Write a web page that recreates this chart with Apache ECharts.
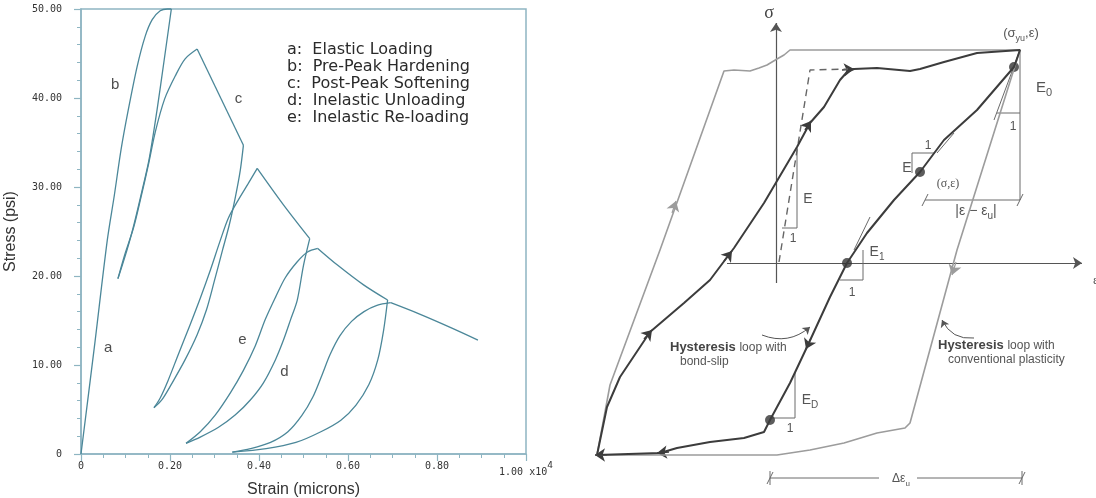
<!DOCTYPE html>
<html>
<head>
<meta charset="utf-8">
<script src="https://cdn.jsdelivr.net/npm/echarts@6/dist/echarts.min.js"></script>
<style>
  html, body { margin: 0; padding: 0; background: #fff; }
  #chart { width: 1096px; height: 498px; }
</style>
</head>
<body>
<div id="chart"></div>
<script>
// ---------- Left panel: cyclic stress–strain response ----------
// strain in units of 1e4 microns, stress in psi
const loadingEnvelope = [[0, 0], [0.030, 12.0], [0.059, 24.0], [0.075, 29.1], [0.090, 34.2], [0.106, 38.6], [0.126, 43.5], [0.144, 46.9], [0.160, 48.8], [0.178, 49.8], [0.194, 50.0], [0.203, 50.0]];
const unload1 = [[0.203, 50.0], [0.187, 44.3], [0.171, 38.7], [0.153, 33.1], [0.133, 28.7], [0.115, 25.0], [0.099, 22.2], [0.083, 19.7]];
const reload1 = [[0.083, 19.7], [0.099, 22.5], [0.118, 25.4], [0.135, 28.9], [0.151, 32.4], [0.167, 36.2], [0.188, 39.9], [0.212, 42.5], [0.234, 44.4], [0.261, 45.5]];
const soften1 = [[0.261, 45.5], [0.365, 34.7]];
const unload2 = [[0.365, 34.7], [0.358, 31.9], [0.347, 28.9], [0.333, 25.7], [0.318, 22.9], [0.300, 19.5], [0.282, 16.2], [0.261, 13.4], [0.234, 10.6], [0.205, 8.0], [0.182, 6.1], [0.164, 5.2]];
const reload2 = [[0.164, 5.2], [0.178, 6.3], [0.196, 8.3], [0.218, 11.1], [0.245, 14.5], [0.268, 17.5], [0.291, 20.7], [0.313, 24.0], [0.331, 26.5], [0.353, 28.5], [0.376, 30.4], [0.396, 32.1]];
const soften2 = [[0.396, 32.1], [0.455, 28.0], [0.514, 24.2]];
const unload3 = [[0.514, 24.2], [0.500, 21.2], [0.486, 17.3], [0.471, 15.1], [0.455, 12.8], [0.437, 10.6], [0.410, 8.0], [0.381, 6.1], [0.347, 4.4], [0.309, 3.0], [0.268, 1.9], [0.236, 1.2]];
const reload3 = [[0.236, 1.2], [0.268, 2.5], [0.302, 4.4], [0.336, 6.9], [0.365, 9.4], [0.392, 12.2], [0.414, 15.1], [0.437, 17.6], [0.459, 19.8], [0.486, 21.6], [0.509, 22.7], [0.532, 23.1]];
const soften3 = [[0.532, 23.1], [0.577, 21.2], [0.635, 19.0], [0.689, 17.3]];
const unload4 = [[0.689, 17.3], [0.680, 13.9], [0.667, 10.6], [0.647, 7.8], [0.618, 5.5], [0.584, 3.8], [0.539, 2.5], [0.483, 1.3], [0.416, 0.6], [0.340, 0.2]];
const reload4 = [[0.340, 0.2], [0.381, 0.6], [0.426, 1.3], [0.465, 2.5], [0.496, 4.3], [0.521, 6.4], [0.541, 8.8], [0.560, 11.2], [0.582, 13.3], [0.608, 14.9], [0.636, 16.0], [0.665, 16.7], [0.696, 17.0]];
const soften4 = [[0.696, 17.0], [0.757, 15.8], [0.831, 14.2], [0.892, 12.8]];

const phaseLetters = ['a', 'b', 'c', 'd', 'e'];
const phaseLetterAt = [[0.061, 11.9], [0.077, 41.5], [0.354, 39.9], [0.457, 9.2], [0.363, 12.8]];
const phaseNames = ['Elastic Loading', 'Pre-Peak Hardening', 'Post-Peak Softening', 'Inelastic Unloading', 'Inelastic Re-loading'];

const strainTicks = { min: 0, max: 1.0, step: 0.2 };
const stressTicks = { min: 0, max: 50, step: 10 };

// ---------- Right panel: hysteresis schematic in σ–ε space (origin at axes crossing) ----------
const sigmaAxisLine = [[0, -20], [0, 240]];
const epsAxisLine = [[-49, 0], [306, 0]];
const plasticLoop = [[-179, -192], [-166, -122], [-116, 13], [-52, 192], [-42, 193], [-26, 192], [-17, 195], [-9, 198], [1, 204], [8, 208], [14, 213], [244, 213], [181, 13], [134, -160], [129, -165], [101, -170], [68, -180], [34, -187], [1, -192], [-179, -192]];
const bondSlipLoop = [[-179, -192], [-169, -144], [-156, -114], [-126, -69], [-92, -40], [-66, -17], [-42, 15], [-12, 60], [21, 116], [34, 140], [48, 156], [64, 183], [71, 191], [78, 194], [101, 195], [134, 192], [144, 194], [168, 201], [201, 210], [244, 213], [238, 196], [201, 153], [168, 123], [144, 91], [118, 63], [91, 30], [71, 0], [54, -34], [31, -84], [14, -120], [-6, -157], [-12, -169], [-32, -175], [-66, -179], [-99, -185], [-116, -190], [-179, -192]];
const elasticPath = [[3, 1], [34, 193], [72, 194]];
const stateDots = [[238, 196], [144, 91], [71, 0], [-6, -157]];
const plasticArrows = [[[-104, 50], [-100, 62]], [[180, 1], [176, -12]]];
const bondSlipArrows = [[[-132, -76], [-124, -67]], [[-52, 2], [-44, 12]], [[29, 133], [35, 142]], [[66, 193], [78, 194]], [[35, -75], [30, -86]], [[-107, -189], [-119, -190]], [[-169, -192], [-181, -192]]];
const slopeMarks = [
  [[6, 35], [21, 35], [21, 113]],          // E  (initial elastic)
  [[221, 150], [244, 150]],                // E0 run
  [[244, 213], [244, 63]],                 // E0 rise
  [[244, 213], [218, 143]],                // E0 tangent
  [[136, 90], [136, 110], [159, 110]],     // E at (σ,ε)
  [[161, 110], [178, 130]],                // tangent at (σ,ε)
  [[87, 13], [87, -17], [64, -17]],        // E1
  [[78, 13], [94, 46]],                    // E1 tangent
  [[19, -110], [19, -155], [-6, -155]]     // ED
];
const dimensionMarks = [
  [[149, 63], [244, 63]], [[146, 57], [152, 69]], [[241, 57], [247, 69]],
  [[-6, -215], [103, -215]], [[141, -215], [246, -215]],
  [[-9, -221], [-3, -209]], [[243, -221], [249, -209]],
  [[-6, -208], [-6, -222]], [[246, -208], [246, -222]]
];
const calloutArrows = [
  [[-14, -72], [34, -64]],
  [[198, -75], [166, -57]]
];

// ---------- styling ----------
const curveColor = '#4b8799';
const frameColor = '#8eb5c2';
const darkInk = '#3c3c3c';
const greyInk = '#9c9c9c';
const thinInk = '#6a6a6a';
const textInk = '#555';

const chart = echarts.init(document.getElementById('chart'), null, { renderer: 'canvas' });

const leftSegments = [loadingEnvelope, unload1, reload1, soften1, unload2, reload2, soften2, unload3, reload3, soften3, unload4, reload4, soften4];

const curveSeries = leftSegments.map(seg => ({
  type: 'line', xAxisIndex: 0, yAxisIndex: 0, data: seg,
  smooth: seg.length > 2 ? 0.3 : false,
  symbol: 'none', clip: false, silent: true,
  lineStyle: { color: curveColor, width: 1.3 }
}));

const letterSeries = {
  type: 'scatter', xAxisIndex: 0, yAxisIndex: 0, silent: true,
  symbolSize: 1, itemStyle: { color: 'rgba(0,0,0,0)' },
  data: phaseLetters.map((l, i) => ({ name: l, value: phaseLetterAt[i] })),
  label: { show: true, position: 'inside', formatter: '{b}', fontFamily: 'Liberation Sans', fontSize: 15, color: '#222' }
};

function schematicLines(list, color, width) {
  return {
    type: 'lines', coordinateSystem: 'cartesian2d', xAxisIndex: 1, yAxisIndex: 1,
    polyline: true, silent: true, symbol: ['none', 'none'],
    lineStyle: { color: color, width: width, opacity: 1, curveness: 0 },
    data: list.map(c => ({ coords: c }))
  };
}

function arrowLines(list, color, width, size, curveness) {
  return {
    type: 'lines', coordinateSystem: 'cartesian2d', xAxisIndex: 1, yAxisIndex: 1,
    polyline: false, silent: true, symbol: ['none', 'arrow'], symbolSize: size,
    lineStyle: { color: color, width: width, opacity: 1, curveness: curveness || 0 },
    data: list.map(c => ({ coords: c }))
  };
}

const schematicSeries = [
  arrowLines([sigmaAxisLine, epsAxisLine], '#555', 1.2, [6, 9]),
  schematicLines(slopeMarks, thinInk, 1),
  schematicLines(dimensionMarks, thinInk, 1),
  { type: 'line', xAxisIndex: 1, yAxisIndex: 1, data: plasticLoop, symbol: 'none', clip: false, silent: true, smooth: false,
    lineStyle: { color: greyInk, width: 1.6 } },
  { type: 'line', xAxisIndex: 1, yAxisIndex: 1, data: elasticPath, symbol: 'none', clip: false, silent: true,
    lineStyle: { color: '#666', width: 1.4, type: [7, 5] } },
  { type: 'line', xAxisIndex: 1, yAxisIndex: 1, data: bondSlipLoop, symbol: 'none', clip: false, silent: true, smooth: false,
    lineStyle: { color: darkInk, width: 2 } },
  arrowLines(plasticArrows, greyInk, 1.2, [8, 10]),
  arrowLines(bondSlipArrows, darkInk, 1.5, [8, 10]),
  arrowLines([calloutArrows[0]], '#555', 1, [5, 7], -0.3),
  arrowLines([calloutArrows[1]], '#555', 1, [5, 7], 0.35),
  { type: 'scatter', xAxisIndex: 1, yAxisIndex: 1, data: stateDots, symbol: 'circle', symbolSize: 10,
    silent: true, itemStyle: { color: '#333' } }
];

function txt(x, y, text, opts) {
  const o = opts || {};
  return {
    type: 'text', x: x, y: y, silent: true,
    style: {
      text: text,
      fill: o.fill || textInk,
      font: o.font || '13px "Liberation Sans"',
      align: o.align || 'center',
      verticalAlign: o.valign || 'middle',
      rich: o.rich
    }
  };
}

const subRich = (size) => ({
  m: { fontSize: size, fontFamily: 'Liberation Sans', fill: textInk, color: textInk, verticalAlign: 'bottom', padding: [0, 0, 3, 0] },
  s: { fontSize: Math.round(size * 0.7), fontFamily: 'Liberation Sans', fill: textInk, color: textInk, verticalAlign: 'bottom' }
});

const hystRich = {
  b: { fontSize: 13, fontWeight: 'bold', fontFamily: 'Liberation Sans', fill: '#444', color: '#444', verticalAlign: 'bottom' },
  n: { fontSize: 12, fontFamily: 'Liberation Sans', fill: textInk, color: textInk, verticalAlign: 'bottom' }
};

const graphics = [];
phaseNames.forEach((n, i) => {
  graphics.push(txt(287, 50 + i * 17, phaseLetters[i] + ':  ' + n, { font: '16px "DejaVu Sans"', fill: '#2a2a2a', align: 'left' }));
});
graphics.push(
  txt(769, 13, 'σ', { font: '18px "Liberation Serif"', fill: '#444' }),
  txt(1093, 281, 'ε', { font: '13px "Liberation Serif"', fill: textInk, align: 'left' }),
  txt(1021, 35, '{m|(σ}{s|yu}{m|,ε)}', { rich: subRich(13) }),
  txt(1044, 89, '{m|E}{s|0}', { rich: subRich(15) }),
  txt(1013, 127, '1', { font: '12px "Liberation Sans"' }),
  txt(928, 146, '1', { font: '12px "Liberation Sans"' }),
  txt(907, 168, 'E', { font: '14px "Liberation Sans"' }),
  txt(948, 184, '(σ,ε)', { font: '12px "Liberation Serif"' }),
  txt(976, 213, '{m||ε − ε}{s|u}{m||}', { rich: subRich(14) }),
  txt(808, 199, 'E', { font: '14px "Liberation Sans"' }),
  txt(793, 239, '1', { font: '12px "Liberation Sans"' }),
  txt(877, 254, '{m|E}{s|1}', { rich: subRich(14) }),
  txt(852, 293, '1', { font: '12px "Liberation Sans"' }),
  txt(810, 402, '{m|E}{s|D}', { rich: subRich(14) }),
  txt(790, 429, '1', { font: '12px "Liberation Sans"' }),
  txt(901, 480, '{m|Δε}{s|u}', { rich: subRich(12) }),
  txt(670, 347, '{b|Hysteresis} {n|loop with}', { align: 'left', rich: hystRich }),
  txt(680, 362, 'bond-slip', { align: 'left', font: '12px "Liberation Sans"' }),
  txt(938, 345, '{b|Hysteresis} {n|loop with}', { align: 'left', rich: hystRich }),
  txt(948, 360, 'conventional plasticity', { align: 'left', font: '12px "Liberation Sans"' })
);

const tickFont = { fontFamily: 'DejaVu Sans Mono', fontSize: 10, color: '#333' };

chart.setOption({
  animation: false,
  backgroundColor: '#fff',
  grid: [
    { left: 81, top: 9, width: 445, height: 445, show: true, borderColor: frameColor, borderWidth: 1.5, containLabel: false, outerBoundsMode: 'none' },
    { left: 580, top: 0, width: 516, height: 498, show: false, containLabel: false, outerBoundsMode: 'none' }
  ],
  xAxis: [
    {
      type: 'value', gridIndex: 0, min: strainTicks.min, max: strainTicks.max, interval: strainTicks.step,
      axisLine: { show: true, onZero: false, lineStyle: { color: frameColor, width: 1.5 } },
      axisTick: { show: true, inside: false, length: 7, lineStyle: { color: frameColor, width: 1.2 } },
      minorTick: { show: true, splitNumber: 4, length: 4, lineStyle: { color: frameColor, width: 1 } },
      splitLine: { show: false }, minorSplitLine: { show: false },
      axisLabel: Object.assign({
        margin: 7, showMinLabel: true, showMaxLabel: true, hideOverlap: false,
        formatter: v => v === 0 ? '0' : (Math.abs(v - strainTicks.max) < 1e-9 ? '{m|' + v.toFixed(2) + ' x10}{p|4}' : v.toFixed(2)),
        rich: {
          m: { fontFamily: 'DejaVu Sans Mono', fontSize: 10, color: '#333', verticalAlign: 'bottom' },
          p: { fontFamily: 'DejaVu Sans', fontSize: 9, color: '#333', verticalAlign: 'bottom', padding: [0, 0, 7, 0] }
        }
      }, tickFont),
      name: 'Strain (microns)', nameLocation: 'middle', nameGap: 26,
      nameTextStyle: { fontFamily: 'Liberation Sans', fontSize: 16, color: '#333' }
    },
    { type: 'value', gridIndex: 1, min: -196, max: 320, show: false }
  ],
  yAxis: [
    {
      type: 'value', gridIndex: 0, min: stressTicks.min, max: stressTicks.max, interval: stressTicks.step,
      axisLine: { show: true, onZero: false, lineStyle: { color: frameColor, width: 1.5 } },
      axisTick: { show: true, inside: false, length: 7, lineStyle: { color: frameColor, width: 1.2 } },
      minorTick: { show: true, splitNumber: 5, length: 4, lineStyle: { color: frameColor, width: 1 } },
      splitLine: { show: false }, minorSplitLine: { show: false },
      axisLabel: Object.assign({
        margin: 19, showMinLabel: true, showMaxLabel: true, hideOverlap: false,
        formatter: v => v === 0 ? '0' : v.toFixed(2)
      }, tickFont),
      name: 'Stress (psi)', nameLocation: 'middle', nameGap: 62, nameRotate: 90,
      nameTextStyle: { fontFamily: 'Liberation Sans', fontSize: 16, color: '#333' }
    },
    { type: 'value', gridIndex: 1, min: -235, max: 263, show: false }
  ],
  series: curveSeries.concat([letterSeries]).concat(schematicSeries),
  graphic: graphics
});
</script>
</body>
</html>
